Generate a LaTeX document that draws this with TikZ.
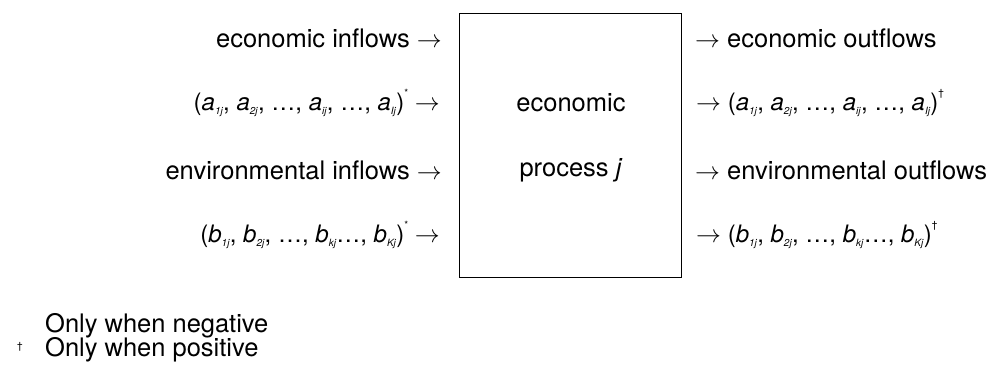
\documentclass[tikz,border=0pt]{standalone}
\usepackage{fontspec}
\setmainfont{TeX Gyre Heros}
\usetikzlibrary{positioning}

% italic letter with a small italic index
\newcommand{\idx}[1]{\raisebox{-0.35ex}{\fontsize{10}{10}\selectfont\textit{#1}}}
\newcommand{\ai}[1]{\textit{a}\idx{#1}}
\newcommand{\bi}[1]{\textit{b}\idx{#1}}
\newcommand{\flowmark}[1]{\raisebox{1.1ex}{\fontsize{10}{10}\selectfont #1}}

\begin{document}
\begin{tikzpicture}[x=1pt, y=-1pt,
    proc/.style={draw, line width=0.9pt, minimum width=222pt, minimum height=264pt, inner sep=0pt},
    lbl/.style={font=\fontsize{25.5}{30}\selectfont, inner sep=0pt},
    vec/.style={font=\fontsize{24}{28}\selectfont, inner sep=0pt},
    inl/.style={anchor=east},
    outl/.style={anchor=west},
    note/.style={lbl, anchor=base west},
]
\useasboundingbox (0,0) rectangle (990,365);

% Process box
\node[proc] (proc) at (570,145) {};
\node[lbl] (pname1) at (571,103) {economic};
\node[lbl] (pname2) at (571,170) {process \textit{j}};

% Inflows
\node[lbl, inl] (ecoin) at (442,38) {economic inflows $\rightarrow$};
\node[vec, inl] (ain) at (440,103) {(\ai{1j}, \ai{2j}, \dots, \ai{ij}, \dots, \ai{Ij})\flowmark{*} $\rightarrow$};
\node[lbl, inl] (envin) at (442,170) {environmental inflows $\rightarrow$};
\node[vec, inl] (bin) at (440,235) {(\bi{1j}, \bi{2j}, \dots, \bi{kj}\dots, \bi{Kj})\flowmark{*} $\rightarrow$};

% Outflows
\node[lbl, outl] (ecoout) at (695,38) {$\rightarrow$ economic outflows};
\node[vec, outl] (aout) at (696,103) {$\rightarrow$ (\ai{1j}, \ai{2j}, \dots, \ai{ij}, \dots, \ai{Ij})\flowmark{\dag}};
\node[lbl, outl] (envout) at (695,170) {$\rightarrow$ environmental outflows};
\node[vec, outl] (bout) at (696,235) {$\rightarrow$ (\bi{1j}, \bi{2j}, \dots, \bi{kj}\dots, \bi{Kj})\flowmark{\dag}};

% Notes
\node[note] (neg) at (45,332) {Only when negative};
\node[note] (pos) at (45,356) {Only when positive};
\node[lbl, font=\fontsize{10}{12}\selectfont] (dag) at (20,347) {\dag};
\end{tikzpicture}
\end{document}
